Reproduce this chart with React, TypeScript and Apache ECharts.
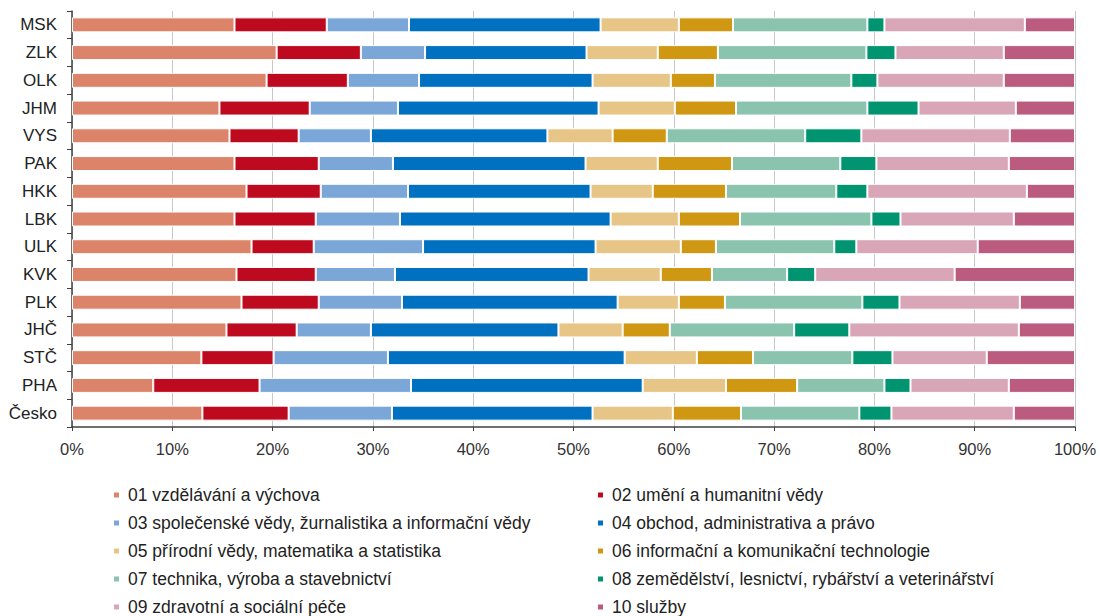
import React, { useEffect, useRef } from "react";
import * as echarts from "echarts";

const regions = ["MSK", "ZLK", "OLK", "JHM", "VYS", "PAK", "HKK", "LBK", "ULK", "KVK", "PLK", "JHČ", "STČ", "PHA", "Česko"];

const seriesNames = [
  "01 vzdělávání a výchova",
  "02 umění a humanitní vědy",
  "03 společenské vědy, žurnalistika a informační vědy",
  "04 obchod, administrativa a právo",
  "05 přírodní vědy, matematika a statistika",
  "06 informační a komunikační technologie",
  "07 technika, výroba a stavebnictví",
  "08 zemědělství, lesnictví, rybářství a veterinářství",
  "09 zdravotní a sociální péče",
  "10 služby",
];

const s01 = [16.2, 20.4, 19.4, 14.7, 15.7, 16.2, 17.4, 16.2, 17.9, 16.4, 16.9, 15.4, 12.9, 8.1, 13.0];
const s02 = [9.2, 8.4, 8.1, 9.0, 6.9, 8.4, 7.4, 8.1, 6.2, 7.9, 7.7, 7.0, 7.2, 10.6, 8.6];
const s03 = [8.2, 6.4, 7.1, 8.8, 7.2, 7.4, 8.7, 8.4, 10.9, 7.9, 8.3, 7.4, 11.4, 15.1, 10.3];
const s04 = [19.1, 16.1, 17.3, 20.0, 17.6, 19.2, 18.2, 21.0, 17.2, 19.3, 21.5, 18.7, 23.6, 23.1, 20.0];
const s05 = [7.8, 7.1, 7.8, 7.6, 6.5, 7.2, 6.2, 6.8, 8.5, 7.2, 6.1, 6.4, 7.2, 8.3, 8.0];
const s06 = [5.4, 6.0, 4.4, 6.1, 5.4, 7.4, 7.3, 6.1, 3.5, 5.1, 4.6, 4.7, 5.6, 7.1, 6.8];
const s07 = [13.4, 14.8, 13.6, 13.1, 13.8, 10.8, 11.0, 13.1, 11.8, 7.5, 13.7, 12.4, 9.9, 8.7, 11.8];
const s08 = [1.7, 2.9, 2.6, 5.1, 5.6, 3.6, 3.1, 2.9, 2.2, 2.8, 3.7, 5.5, 4.0, 2.6, 3.2];
const s09 = [14.0, 10.8, 12.6, 9.7, 14.8, 13.2, 15.9, 11.3, 12.1, 13.9, 12.0, 16.9, 9.4, 9.8, 12.2];
const s10 = [5.0, 7.1, 7.1, 5.9, 6.5, 6.6, 4.8, 6.1, 9.7, 12.0, 5.5, 5.6, 8.8, 6.6, 6.1];

const seriesData = [s01, s02, s03, s04, s05, s06, s07, s08, s09, s10];

const colors = [
  "#DC846A",
  "#BD0A1E",
  "#7BA7D8",
  "#0070C0",
  "#E6C587",
  "#CF9712",
  "#8AC3AE",
  "#009470",
  "#D8A6B6",
  "#BB5B7E",
];

export default function App() {
  const ref = useRef<HTMLDivElement>(null);

  useEffect(() => {
    if (!ref.current) return;
    const chart = echarts.init(ref.current, null, { renderer: "svg" });
    const font = "'Liberation Sans', Arial, sans-serif";
    const legendCommon = {
      orient: "vertical" as const,
      top: 486,
      itemWidth: 7,
      itemHeight: 7,
      itemGap: 10,
      icon: "rect",
      textStyle: { fontFamily: font, fontSize: 17.5, color: "#222", lineHeight: 18, padding: [0, 0, 0, 3] },
      padding: 0,
    };
    chart.setOption({
      animation: false,
      color: colors,
      textStyle: { fontFamily: font },
      grid: { left: 72, right: 25, top: 11, height: 416, containLabel: false },
      legend: [
        { ...legendCommon, left: 112, data: seriesNames.filter((_, i) => i % 2 === 0) },
        { ...legendCommon, left: 596, data: seriesNames.filter((_, i) => i % 2 === 1) },
      ],
      xAxis: {
        type: "value",
        min: 0,
        max: 100,
        interval: 10,
        axisLine: { show: true, lineStyle: { color: "#404040", width: 1.5 } },
        axisTick: { show: true, length: 4, lineStyle: { color: "#404040" } },
        splitLine: { show: true, lineStyle: { color: "#c8c8c8", width: 1 } },
        axisLabel: { formatter: "{value}%", fontSize: 16.5, color: "#333", margin: 13, fontFamily: font },
      },
      yAxis: {
        type: "category",
        data: regions,
        inverse: true,
        axisLine: { show: true, lineStyle: { color: "#404040", width: 1.5 } },
        axisTick: { show: true, length: 5, lineStyle: { color: "#404040" } },
        axisLabel: { fontSize: 17, color: "#222", margin: 15, fontFamily: font },
      },
      series: seriesData.map((d, i) => ({
        name: seriesNames[i],
        type: "bar",
        stack: "total",
        barWidth: 15,
        data: d,
        itemStyle: { borderColor: "#ffffff", borderWidth: 1 },
      })),
    });
    return () => chart.dispose();
  }, []);

  return (
    <div
      ref={ref}
      style={{ position: "absolute", left: 0, top: 0, width: 1100, height: 616, background: "#fff" }}
    />
  );
}
